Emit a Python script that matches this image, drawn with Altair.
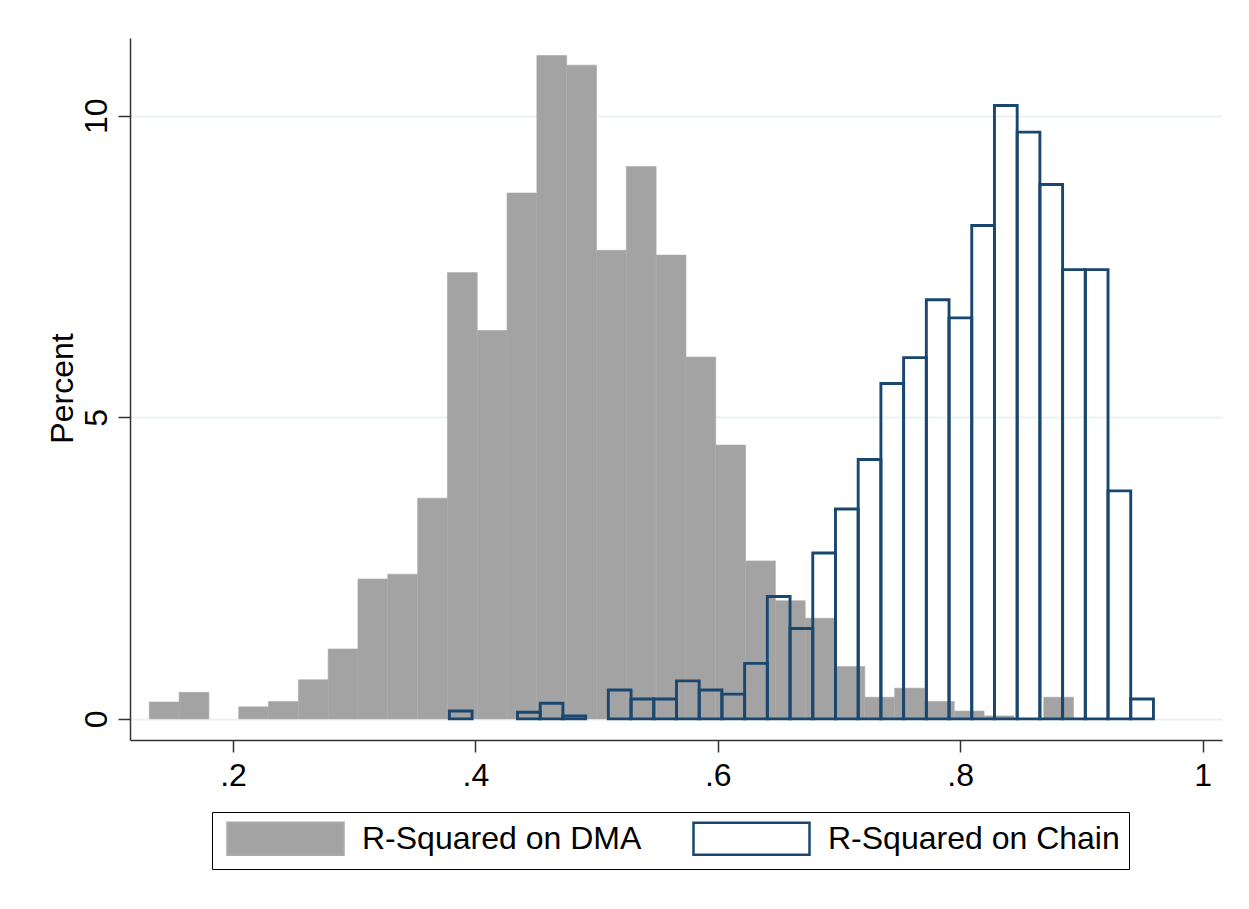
import altair as alt
import pandas as pd

# DMA histogram (percent), 31 bins
dma_start = 0.1309
dma_width = 0.0246
dma_pct = [0.28, 0.44, 0.0, 0.20, 0.29, 0.65, 1.16, 2.32, 2.40, 3.66,
           7.40, 6.44, 8.72, 11.0, 10.84, 7.77, 9.16, 7.69, 6.00, 4.54,
           2.62, 1.96, 1.67, 0.87, 0.36, 0.51, 0.29, 0.13, 0.05, 0.0, 0.36]

# Chain histogram (percent), 31 bins
chain_start = 0.3785
chain_width = 0.01874
chain_pct = [0.13, 0.0, 0.0, 0.11, 0.26, 0.05, 0.0, 0.48, 0.33, 0.33,
             0.63, 0.48, 0.41, 0.92, 2.03, 1.50, 2.75, 3.48, 4.30, 5.56,
             5.99, 6.95, 6.65, 8.18, 10.17, 9.73, 8.86, 7.45, 7.45, 3.78, 0.33]

series_names = ["R-Squared on DMA", "R-Squared on Chain"]
x_ticks = [0.2, 0.4, 0.6, 0.8, 1.0]
y_ticks = [0, 5, 10]

rows = []
for i, p in enumerate(dma_pct):
    if p > 0:
        rows.append({"series": series_names[0], "x0": dma_start + i * dma_width,
                     "x1": dma_start + (i + 1) * dma_width, "pct": p, "sw": 0.6})
for i, p in enumerate(chain_pct):
    if p > 0:
        rows.append({"series": series_names[1], "x0": chain_start + i * chain_width,
                     "x1": chain_start + (i + 1) * chain_width, "pct": p, "sw": 2.9})
df = pd.DataFrame(rows)

FONT = "Liberation Sans"
FS = 32

legend_opts = dict(
    title=None,
    orient="none",
    legendX=82,
    legendY=774,
    direction="horizontal",
    columns=2,
    columnPadding=45,
    strokeColor="black",
    fillColor="white",
    padding=9,
    symbolOffset=5,
    symbolType="M-1,-1H6.25V1H-1Z",
    symbolSize=1024,
    symbolStrokeWidth=2.5,
    labelFontSize=FS,
    labelFont=FONT,
    labelColor="black",
    labelOffset=101,
    labelLimit=500,
)

chart = alt.Chart(df).mark_rect().encode(
    x=alt.X("x0:Q", scale=alt.Scale(domain=[0.115, 1.016], nice=False, zero=False),
            axis=alt.Axis(values=x_ticks, format=".1~f",
                          labelExpr="replace(datum.label, /^0/, '')",
                          title=None, grid=False, tickSize=12, labelPadding=8,
                          labelFontSize=FS, labelFont=FONT, labelColor="black",
                          domainColor="#333333", tickColor="#333333",
                          domainWidth=1.5, tickWidth=1.5)),
    x2="x1:Q",
    y=alt.Y("pct:Q", scale=alt.Scale(domain=[-0.35, 11.29], nice=False, zero=False),
            axis=alt.Axis(values=y_ticks, title="Percent", grid=True,
                          gridColor="#eaf2f3", gridWidth=2,
                          tickSize=12, labelPadding=12, labelAngle=-90,
                          labelAlign="center", labelBaseline="alphabetic",
                          labelFontSize=FS, labelFont=FONT, labelColor="black",
                          titleFontSize=FS, titleFont=FONT, titleFontWeight="normal",
                          titleColor="black", titleX=-58, titleY=350,
                          titleAngle=-90, titleAlign="center",
                          titleBaseline="alphabetic",
                          domainColor="#333333", tickColor="#333333",
                          domainWidth=1.5, tickWidth=1.5)),
    y2=alt.datum(0),
    fill=alt.Fill("series:N",
                  scale=alt.Scale(domain=series_names, range=["#a3a3a3", "transparent"]),
                  legend=alt.Legend(**legend_opts)),
    stroke=alt.Stroke("series:N",
                      scale=alt.Scale(domain=series_names, range=["#a9a9a9", "#1a476f"]),
                      legend=alt.Legend(**legend_opts)),
    strokeWidth=alt.StrokeWidth("sw:Q", scale=None),
    order=alt.Order("sw:Q"),
).properties(
    width=1092,
    height=702,
    padding={"left": 122, "top": 30, "right": 10, "bottom": 150},
    autosize="none",
    background="white",
).configure_view(
    strokeWidth=0, stroke="transparent"
)

chart.save("out.html", embed_options={"renderer": "svg", "actions": False})
